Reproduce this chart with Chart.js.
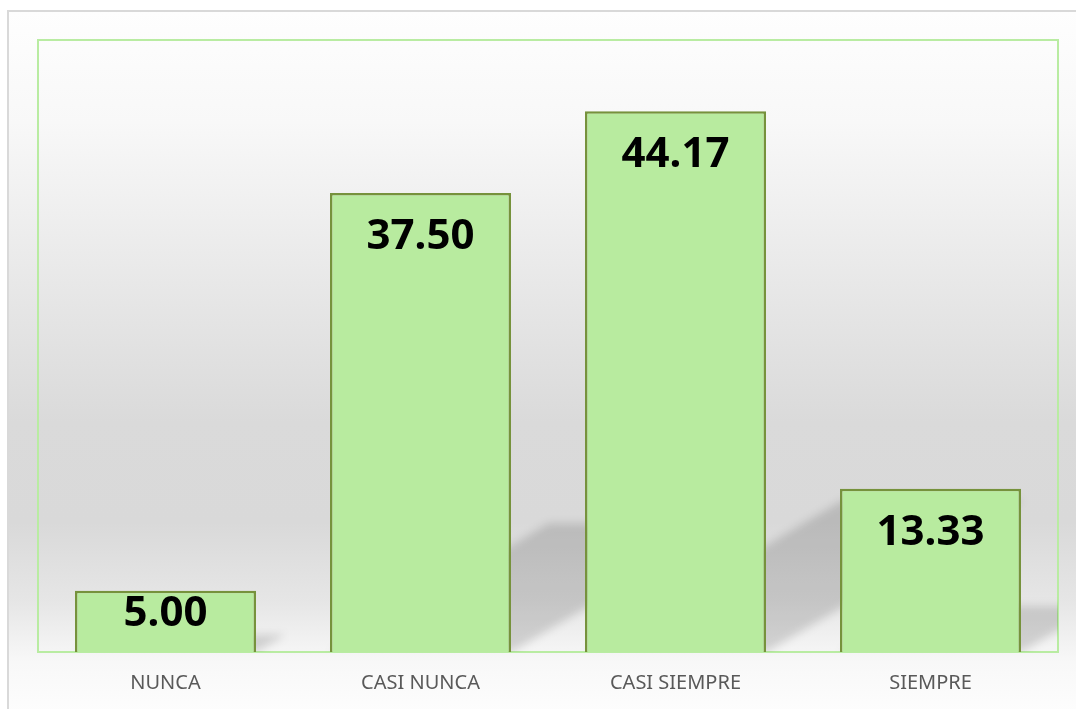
<!DOCTYPE html>
<html>
<head>
<meta charset="utf-8">
<script src="https://cdn.jsdelivr.net/npm/chart.js@4"></script>
<style>
  html, body { margin: 0; padding: 0; background: #ffffff; overflow: hidden; }
  #frame {
    position: absolute; left: 7px; top: 10px; width: 1100px; height: 720px;
    border-left: 2px solid #d9d9d9; border-top: 2px solid #d9d9d9;
    background: linear-gradient(to bottom, #fefefe 0px, #f8f8f8 110px, #e6e6e6 290px,
      #dadada 410px, #d9d9d9 510px, #e6e6e6 590px, #f8f8f8 650px, #fdfdfd 700px);
  }
  #chart { position: absolute; left: 0; top: 0; }
</style>
</head>
<body>
<div id="frame"></div>
<canvas id="chart" width="1076" height="709"></canvas>
<script>
// categories and values
const categories = ["NUNCA", "CASI NUNCA", "CASI SIEMPRE", "SIEMPRE"];
const percentages = [5.00, 37.50, 44.17, 13.33];
const yMin = 0;
const yMax = 50;

// Draws the green frame round the plot area
const plotFrame = {
  id: "plotFrame",
  beforeDatasetsDraw: (chart) => {
    const { ctx, chartArea } = chart;
    ctx.save();
    ctx.strokeStyle = "#b9eca2";
    ctx.lineWidth = 2;
    ctx.strokeRect(chartArea.left, chartArea.top,
      chartArea.right - chartArea.left, chartArea.bottom - chartArea.top);
    ctx.restore();
  },
};

// Soft slanted shadow cast behind each bar
const barShadows = {
  id: "barShadows",
  beforeDatasetsDraw: (chart) => {
    const { ctx, chartArea } = chart;
    const meta = chart.getDatasetMeta(0);
    ctx.save();
    ctx.beginPath();
    ctx.rect(chartArea.left, chartArea.top, chartArea.right - chartArea.left, chartArea.bottom - chartArea.top);
    ctx.clip();
    ctx.filter = "blur(4px)";
    ctx.fillStyle = "rgba(0,0,0,0.14)";
    meta.data.forEach((bar) => {
      const left = bar.x - bar.width / 2;
      const right = bar.x + bar.width / 2;
      const h = (bar.base - bar.y) * 0.28;
      const skew = h * 1.7;
      ctx.beginPath();
      ctx.moveTo(left, bar.base);
      ctx.lineTo(right, bar.base);
      ctx.lineTo(right + skew, bar.base - h);
      ctx.lineTo(left + skew, bar.base - h);
      ctx.closePath();
      ctx.fill();
    });
    ctx.restore();
  },
};

// Value labels near the top inside each bar
const valueLabels = {
  id: "valueLabels",
  afterDatasetsDraw: (chart) => {
    const { ctx } = chart;
    const meta = chart.getDatasetMeta(0);
    const size = 42;
    ctx.save();
    ctx.font = "bold " + size + "px 'Noto Sans'";
    ctx.fillStyle = "#000000";
    ctx.textAlign = "center";
    ctx.textBaseline = "alphabetic";
    meta.data.forEach((bar, i) => {
      const center = Math.min(bar.y + 41, bar.base - 41);
      ctx.fillText(percentages[i].toFixed(2), bar.x, center + size * 0.357);
    });
    ctx.restore();
  },
};

new Chart(document.querySelector("#chart"), {
  type: "bar",
  data: {
    labels: categories,
    datasets: [
      {
        data: percentages,
        backgroundColor: "#b8eb9f",
        borderColor: "#76923c",
        borderWidth: 2.5,
        barPercentage: 0.71,
        categoryPercentage: 1,
      },
    ],
  },
  options: {
    responsive: false,
    animation: false,
    layout: { padding: { left: 38, right: 18, top: 40, bottom: 14 } },
    plugins: {
      legend: { display: false },
      tooltip: { enabled: false },
    },
    scales: {
      x: {
        grid: { display: false, drawTicks: false },
        border: { display: false },
        ticks: {
          padding: 19,
          color: "#595959",
          font: { family: "'Noto Sans'", size: 20 },
        },
        afterFit: (scale) => {
          scale.height = 43;
        },
      },
      y: {
        display: false,
        min: yMin,
        max: yMax,
      },
    },
  },
  plugins: [plotFrame, barShadows, valueLabels],
});
</script>
</body>
</html>
